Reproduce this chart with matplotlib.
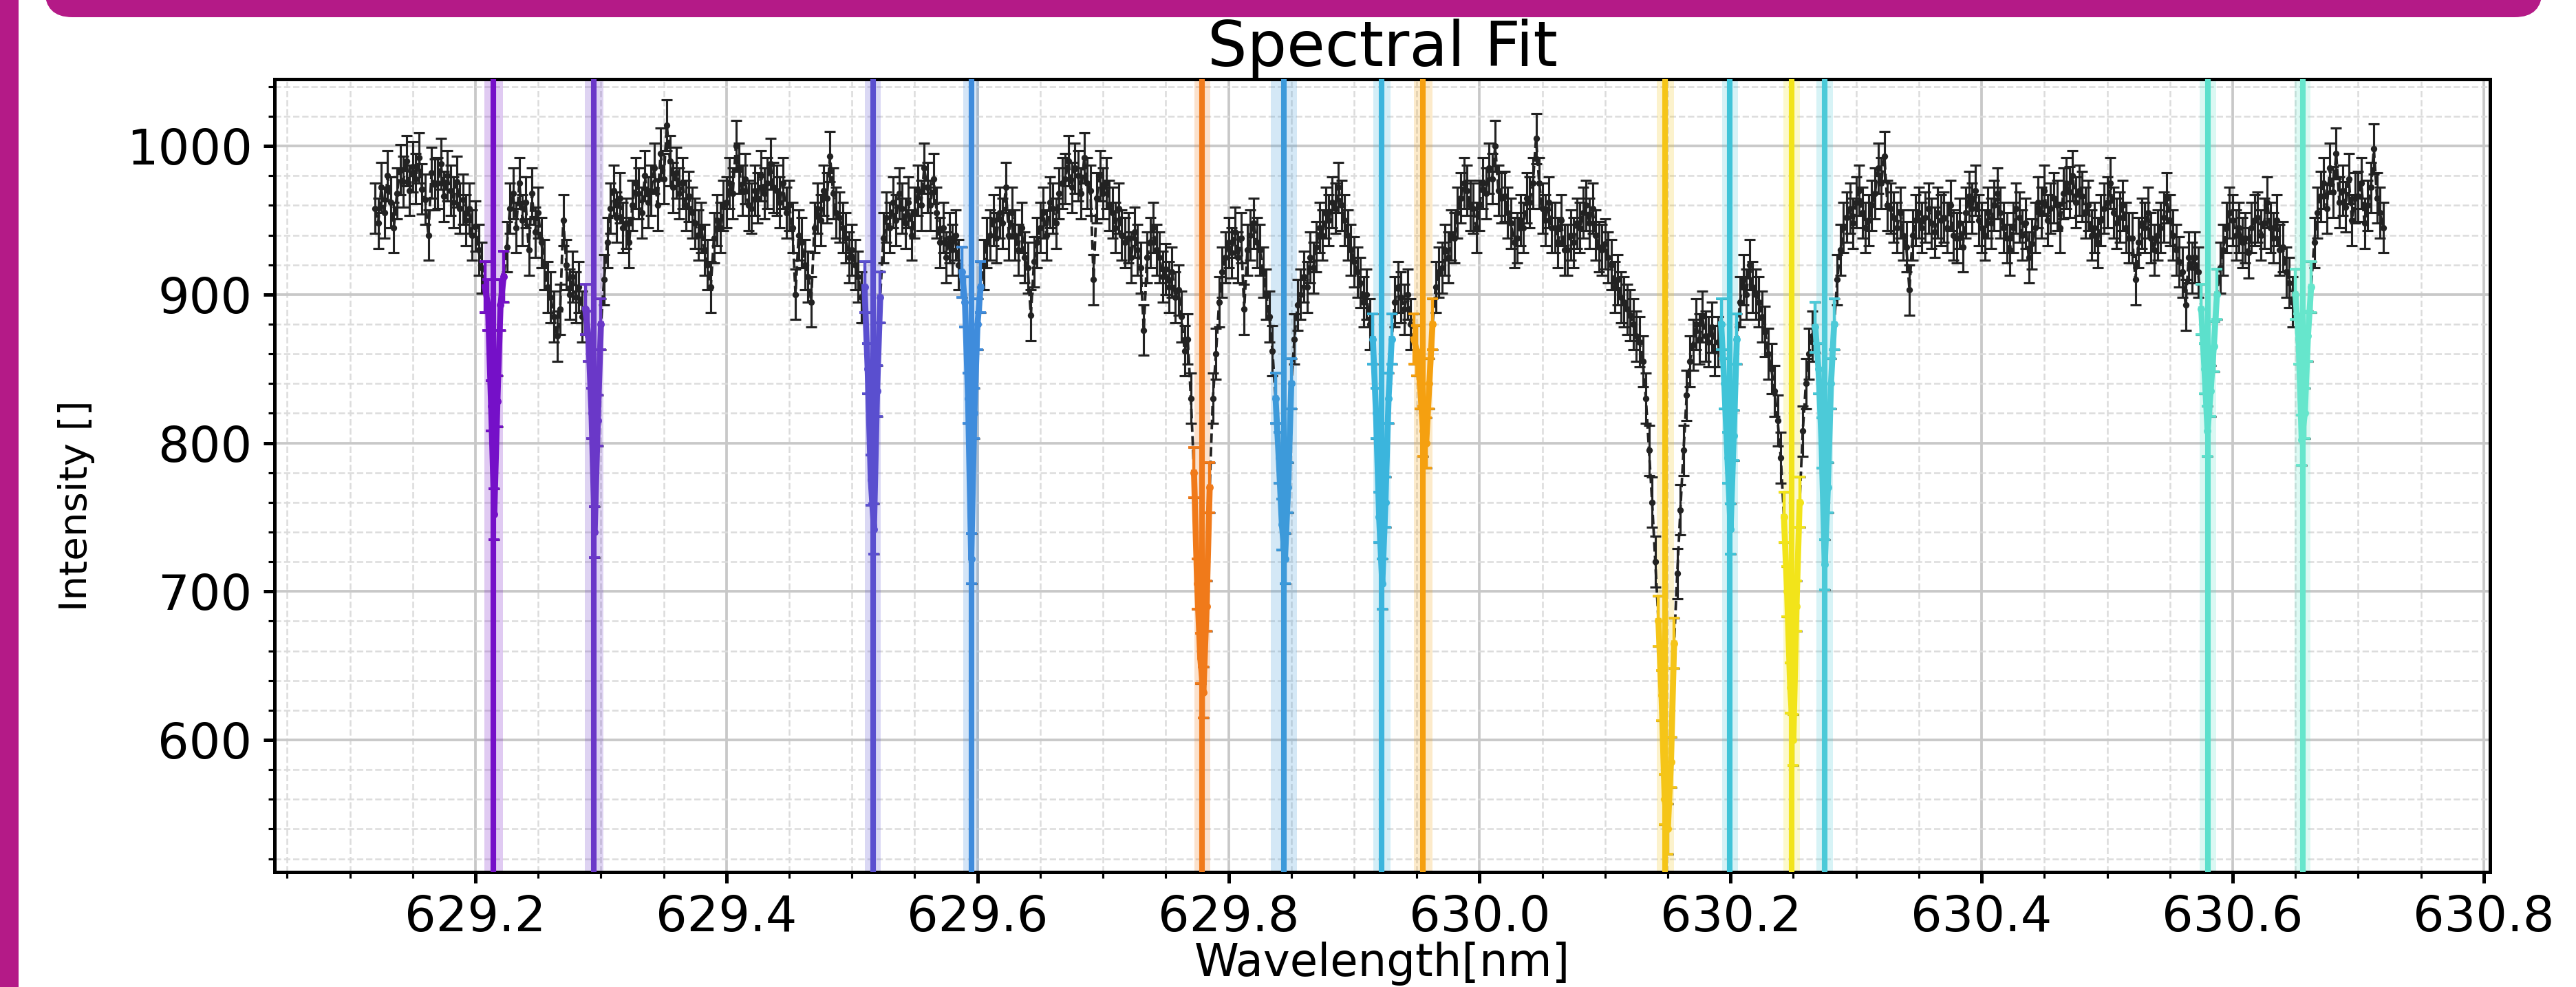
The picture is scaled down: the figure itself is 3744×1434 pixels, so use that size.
import numpy as np
import matplotlib.pyplot as plt
from matplotlib.patches import FancyBboxPatch, Rectangle
from matplotlib.transforms import IdentityTransform
from matplotlib.ticker import MultipleLocator, FormatStrFormatter

# measured spectrum, one value every 0.0025 nm starting at 629.12 nm
intensity = np.array([
    958, 948, 972, 955, 980, 962, 945, 968, 984, 976, 990, 970, 986, 978, 992, 971, 964, 940, 982, 974,
    975, 988, 966, 980, 970, 962, 976, 958, 964, 950, 958, 940, 946, 930, 918, 905, 893, 825, 752, 828,
    893, 912, 932, 958, 968, 945, 975, 950, 962, 930, 968, 942, 955, 935, 920, 905, 898, 885, 872, 890,
    950, 920, 900, 912, 898, 905, 885, 890, 872, 820, 740, 815, 880, 910, 935, 958, 970, 952, 965, 945,
    948, 935, 960, 975, 968, 955, 980, 962, 970, 985, 960, 995, 978, 1014, 990, 972, 982, 968, 975, 960,
    966, 955, 948, 940, 945, 930, 920, 905, 938, 950, 945, 960, 962, 975, 968, 1000, 985, 970, 978, 960,
    958, 970, 965, 980, 968, 975, 988, 972, 970, 962, 975, 955, 960, 945, 900, 940, 935, 920, 912, 895,
    945, 958, 950, 970, 965, 993, 968, 955, 952, 945, 938, 925, 930, 920, 912, 898, 905, 850, 775, 742,
    835, 898, 938, 952, 945, 962, 950, 968, 958, 948, 962, 940, 955, 970, 960, 985, 972, 960, 978, 955,
    935, 945, 925, 938, 930, 940, 920, 915, 895, 830, 722, 820, 880, 905, 920, 935, 940, 950, 938, 955,
    948, 972, 940, 955, 940, 930, 945, 925, 918, 886, 922, 935, 945, 955, 940, 962, 958, 948, 968, 975,
    978, 990, 972, 985, 980, 968, 992, 975, 970, 910, 965, 980, 968, 975, 960, 955, 945, 958, 940, 935,
    938, 925, 942, 930, 918, 876, 925, 935, 945, 930, 925, 912, 917, 905, 915, 898, 903, 885, 862, 870,
    830, 780, 705, 655, 632, 690, 770, 830, 860, 895, 915, 925, 935, 928, 942, 925, 938, 890, 930, 940,
    948, 935, 930, 915, 900, 885, 862, 830, 790, 745, 722, 770, 840, 870, 893, 900, 912, 905, 925, 918,
    932, 945, 940, 955, 950, 962, 958, 972, 960, 950, 940, 930, 922, 915, 908, 895, 900, 880, 870, 820,
    750, 705, 760, 830, 870, 895, 905, 898, 890, 900, 880, 870, 862, 840, 808, 800, 840, 880, 905, 915,
    918, 930, 925, 940, 938, 955, 965, 975, 970, 960, 958, 945, 960, 975, 968, 985, 978, 1000, 970, 965,
    966, 955, 948, 935, 938, 950, 945, 965, 962, 975, 1005, 975, 958, 950, 962, 945, 945, 935, 950, 930,
    930, 940, 935, 948, 945, 955, 960, 948, 958, 940, 932, 930, 934, 925, 920, 905, 910, 898, 895, 890,
    886, 880, 872, 868, 855, 830, 795, 760, 720, 680, 630, 560, 540, 585, 665, 712, 755, 795, 832, 855,
    866, 880, 870, 885, 872, 868, 878, 862, 868, 880, 840, 790, 742, 805, 870, 895, 910, 900, 920, 905,
    900, 895, 885, 875, 860, 850, 835, 815, 790, 750, 700, 635, 600, 690, 760, 808, 840, 860, 872, 878,
    850, 800, 718, 770, 840, 880, 910, 930, 945, 952, 958, 948, 962, 970, 955, 945, 950, 960, 968, 985,
    975, 993, 960, 958, 952, 945, 955, 940, 932, 903, 940, 950, 955, 945, 952, 958, 948, 942, 955, 950,
    952, 945, 960, 940, 938, 948, 932, 955, 966, 958, 970, 950, 945, 940, 955, 948, 960, 968, 955, 945,
    938, 930, 945, 958, 952, 940, 948, 925, 934, 945, 962, 955, 970, 950, 958, 965, 960, 945, 968, 975,
    969, 980, 962, 970, 966, 955, 960, 940, 945, 935, 950, 958, 962, 975, 955, 948, 952, 960, 945, 938,
    938, 910, 935, 948, 945, 955, 938, 930, 940, 945, 952, 965, 950, 940, 930, 922, 915, 893, 925, 918,
    925, 915, 890, 850, 808, 835, 865, 900, 918, 930, 945, 955, 950, 940, 945, 935, 938, 928, 945, 950,
    952, 940, 948, 962, 945, 938, 950, 930, 932, 915, 908, 895, 900, 870, 802, 820, 872, 905, 935, 955,
    966, 975, 958, 985, 969, 995, 962, 970, 959, 978, 950, 965, 966, 975, 948, 960, 972, 998, 965, 955,
    945,
])
wavelength = 629.12 + 0.0025 * np.arange(intensity.size)
intensity_err = 17

# fitted line centres, their uncertainty bands and colours
line_centers = [629.2145, 629.2945, 629.5167, 629.595, 629.779, 629.844, 629.922,
                629.955, 630.148, 630.1995, 630.2486, 630.275, 630.5805, 630.6557]
line_bands = [0.0074, 0.0074, 0.0063, 0.0063, 0.0063, 0.0104, 0.0068,
              0.0074, 0.0068, 0.0063, 0.0066, 0.0066, 0.0066, 0.0063]
line_colors = ['#7510c8', '#6a38c8', '#5a4fcf', '#3f8cdc', '#f07a1a', '#3d9ada', '#3bb5dd',
               '#f5a010', '#f5c518', '#40c4d8', '#f2e41a', '#4ccad8', '#5ce0cc', '#66e6cc']
fit_halfwidth = 0.008

DPI = 450
fig = plt.figure(figsize=(3744 / DPI, 1434 / DPI), dpi=DPI)
ax = fig.add_axes([0.1066, 0.1165, 0.86, 0.8033])

# raw data
ax.errorbar(wavelength, intensity, yerr=intensity_err, fmt='--', color='#222222',
            marker='.', ms=1.0, lw=0.6, elinewidth=0.5, capsize=1.3, capthick=0.5, zorder=2)

# fitted lines
for c, hw, col in zip(line_centers, line_bands, line_colors):
    ax.axvspan(c - hw, c + hw, color=col, alpha=0.22, lw=0, zorder=1)
    ax.axvline(c, color=col, lw=1.3, zorder=3)
    m = np.abs(wavelength - c) <= fit_halfwidth
    ax.errorbar(wavelength[m], intensity[m], yerr=intensity_err, fmt='-', color=col,
                marker='.', ms=1.5, lw=1.4, elinewidth=0.7, capsize=1.3, capthick=0.6, zorder=4)

ax.set_xlim(629.04, 630.805)
ax.set_ylim(511, 1045)
ax.xaxis.set_major_locator(MultipleLocator(0.2))
ax.xaxis.set_minor_locator(MultipleLocator(0.05))
ax.xaxis.set_major_formatter(FormatStrFormatter('%.1f'))
ax.yaxis.set_major_locator(MultipleLocator(100))
ax.yaxis.set_minor_locator(MultipleLocator(20))
ax.grid(which='major', color='#c8c8c8', lw=0.6)
ax.grid(which='minor', color='#dcdcdc', ls='--', lw=0.4)
ax.set_axisbelow(True)
ax.tick_params(which='major', labelsize=11.5, length=2.6, pad=2.6, width=0.8)
ax.tick_params(which='minor', length=1.5, width=0.5)

ax.set_title('Spectral Fit', fontsize=14.5, pad=3)
ax.set_xlabel('Wavelength[nm]', fontsize=10.5, labelpad=0)
ax.set_ylabel('Intensity []', fontsize=9)
ax.yaxis.set_label_coords(-0.081, 0.462)

# magenta frame of the slide
magenta = '#b41a87'
fig.add_artist(Rectangle((0, 0), 27, 1434, color=magenta, lw=0, transform=IdentityTransform()))
fig.add_artist(FancyBboxPatch((65, 1409), 3630, 120, boxstyle='round,pad=0,rounding_size=40',
                              color=magenta, lw=0, transform=IdentityTransform()))

fig.savefig('out.png', dpi=DPI)
